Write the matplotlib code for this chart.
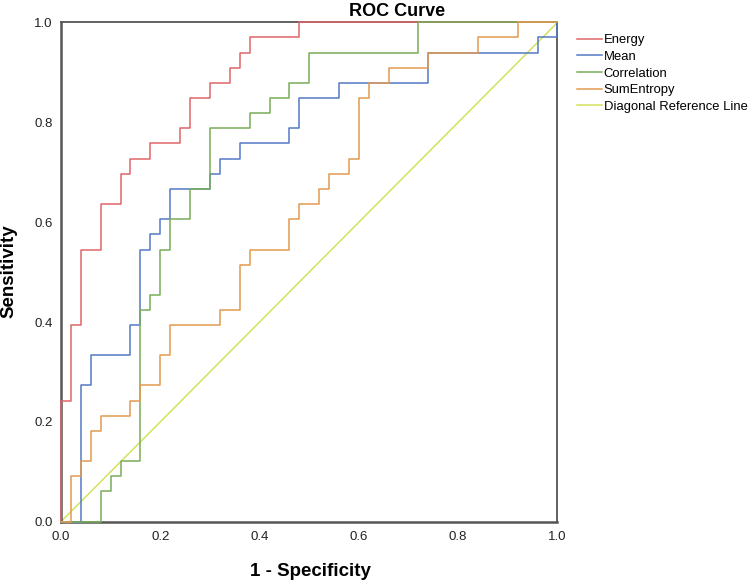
import matplotlib.pyplot as plt

plt.rcParams['font.family'] = ['Liberation Sans', 'DejaVu Sans']

# ROC corner points (1 - specificity, sensitivity), drawn as post steps
energy_fpr = [0.0, 0.0, 0.02, 0.04, 0.08, 0.12, 0.14, 0.18, 0.24, 0.26, 0.30, 0.34, 0.36, 0.38, 0.48, 1.0]
energy_tpr = [0.0, 0.242, 0.394, 0.545, 0.636, 0.697, 0.727, 0.758, 0.788, 0.848, 0.879, 0.909, 0.939, 0.970, 1.0, 1.0]

mean_fpr = [0.0, 0.04, 0.06, 0.14, 0.16, 0.18, 0.20, 0.22, 0.30, 0.32, 0.36, 0.46, 0.48, 0.56, 0.74, 0.96, 1.0]
mean_tpr = [0.0, 0.273, 0.333, 0.394, 0.545, 0.576, 0.606, 0.667, 0.697, 0.727, 0.758, 0.788, 0.848, 0.879, 0.939, 0.970, 1.0]

corr_fpr = [0.0, 0.08, 0.10, 0.12, 0.16, 0.18, 0.20, 0.22, 0.26, 0.30, 0.38, 0.42, 0.46, 0.50, 0.72, 1.0]
corr_tpr = [0.0, 0.061, 0.091, 0.121, 0.424, 0.455, 0.545, 0.606, 0.667, 0.788, 0.818, 0.848, 0.879, 0.939, 1.0, 1.0]

sument_fpr = [0.0, 0.02, 0.04, 0.06, 0.08, 0.14, 0.16, 0.20, 0.22, 0.32, 0.36, 0.38, 0.46, 0.48,
              0.52, 0.54, 0.58, 0.60, 0.62, 0.66, 0.74, 0.84, 0.92, 1.0]
sument_tpr = [0.0, 0.091, 0.121, 0.182, 0.212, 0.242, 0.273, 0.333, 0.394, 0.424, 0.515, 0.545, 0.606, 0.636,
              0.667, 0.697, 0.727, 0.848, 0.879, 0.909, 0.939, 0.970, 1.0, 1.0]

diag = [0.0, 1.0]

curves = [
    ('Energy', energy_fpr, energy_tpr, '#E06468'),
    ('Mean', mean_fpr, mean_tpr, '#5579C6'),
    ('Correlation', corr_fpr, corr_tpr, '#78AE58'),
    ('SumEntropy', sument_fpr, sument_tpr, '#E29A50'),
]

fig = plt.figure(figsize=(7.5, 5.84), dpi=100)
ax = fig.add_axes([0.0813, 0.1067, 0.662, 0.8548])

for name, fx, ty, col in curves:
    ax.step(fx, ty, where='post', color=col, lw=1.1, label=name, clip_on=False, zorder=3)
ax.plot(diag, diag, color='#D3E25E', lw=1.1, label='Diagonal Reference Line', zorder=2)

ax.set_xlim(0, 1)
ax.set_ylim(0, 1)
ax.set_xticks([0.0, 0.2, 0.4, 0.6, 0.8, 1.0])
ax.set_yticks([0.0, 0.2, 0.4, 0.6, 0.8, 1.0])
ax.xaxis.set_major_formatter(plt.FormatStrFormatter('%.1f'))
ax.yaxis.set_major_formatter(plt.FormatStrFormatter('%.1f'))
ax.tick_params(axis='both', length=0, labelsize=9.5, colors='#222222')
ax.tick_params(axis='x', pad=7)
ax.tick_params(axis='y', pad=6)
for s in ax.spines.values():
    s.set_color('#555555')
    s.set_linewidth(1.3)
ax.spines['left'].set_linewidth(1.8)
ax.spines['bottom'].set_linewidth(1.8)

fig.text(397 / 750, 1 - 11 / 584, 'ROC Curve', ha='center', va='center', fontsize=13, fontweight='bold')
fig.text(310 / 750, 12 / 584, '1 - Specificity', ha='center', va='center', fontsize=13.5, fontweight='bold')
fig.text(9 / 750, 1 - 271 / 584, 'Sensitivity', ha='center', va='center', rotation=90,
         fontsize=13.5, fontweight='bold')

ax.legend(loc='upper left', bbox_to_anchor=(577 / 750, 1 - 34 / 584), bbox_transform=fig.transFigure,
          frameon=False, fontsize=9.4, handlelength=1.9, handletextpad=0.15, labelspacing=0.35,
          borderpad=0, borderaxespad=0)

fig.savefig('out.png', dpi=100)
